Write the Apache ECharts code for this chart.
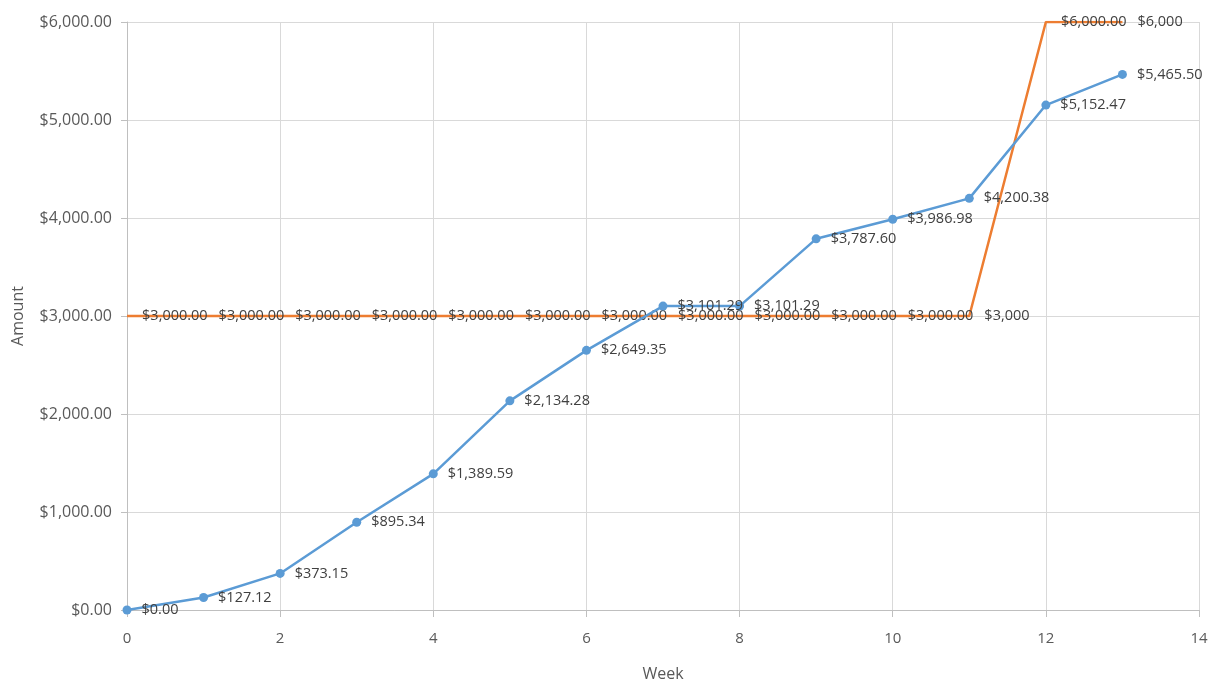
<!DOCTYPE html>
<html><head><meta charset="utf-8">
<script src="https://cdn.jsdelivr.net/npm/echarts@6/dist/echarts.min.js"></script>
<style>html,body{margin:0;padding:0;background:#fff}#c{width:1213px;height:684px}</style>
</head><body><div id="c"></div>
<script>
const weeks = [0,1,2,3,4,5,6,7,8,9,10,11,12,13];
const amountValues = [0, 127.12, 373.15, 895.34, 1389.59, 2134.28, 2649.35, 3101.29, 3101.29, 3787.60, 3986.98, 4200.38, 5152.47, 5465.50];
const targetValues = [3000,3000,3000,3000,3000,3000,3000,3000,3000,3000,3000,3000,6000,6000];
const targetLabels = ['$3,000.00','$3,000.00','$3,000.00','$3,000.00','$3,000.00','$3,000.00','$3,000.00','$3,000.00','$3,000.00','$3,000.00','$3,000.00','$3,000','$6,000.00','$6,000'];
const yTickLabels = ['$0.00','$1,000.00','$2,000.00','$3,000.00','$4,000.00','$5,000.00','$6,000.00'];

function money(v){
  return '$' + v.toLocaleString('en-US',{minimumFractionDigits:2,maximumFractionDigits:2});
}
const FONT = 'Open Sans';
const chart = echarts.init(document.getElementById('c'), null, {renderer:'canvas'});
chart.setOption({
  animation:false,
  grid:{left:127,right:14,top:22,bottom:74,containLabel:false,outerBoundsMode:'none'},
  xAxis:{type:'value',min:0,max:14,interval:2,name:'Week',nameLocation:'middle',nameGap:56,
    nameTextStyle:{color:'#595959',fontSize:16,fontFamily:FONT},
    axisLine:{show:true,lineStyle:{color:'#bfbfbf'}},
    axisTick:{show:true,length:7,lineStyle:{color:'#bfbfbf'}},
    axisLabel:{color:'#595959',fontSize:15,fontFamily:FONT,margin:21},
    splitLine:{show:true,lineStyle:{color:'#d9d9d9'}}},
  yAxis:{type:'value',min:0,max:6000,interval:1000,name:'Amount',nameLocation:'middle',nameGap:101,
    nameTextStyle:{color:'#595959',fontSize:16,fontFamily:FONT},
    axisLine:{show:true,lineStyle:{color:'#bfbfbf'}},
    axisTick:{show:true,length:6,lineStyle:{color:'#bfbfbf'}},
    axisLabel:{color:'#595959',fontSize:16,fontFamily:FONT,margin:15,formatter:(v)=>yTickLabels[Math.round(v/1000)]},
    splitLine:{show:true,lineStyle:{color:'#d9d9d9'}}},
  series:[
    {type:'line',name:'Target',data:weeks.map((w,i)=>[w,targetValues[i]]),
     showSymbol:true,symbol:'circle',symbolSize:0.1,lineStyle:{color:'#ed7d31',width:2.5},itemStyle:{color:'#ed7d31'},
     label:{show:true,position:'right',distance:15,color:'#404040',fontSize:14.5,fontFamily:FONT,
       formatter:(p)=>targetLabels[p.dataIndex]},
     labelLayout:{hideOverlap:false},
     z:2},
    {type:'line',name:'Amount',data:weeks.map((w,i)=>[w,amountValues[i]]),
     symbol:'circle',symbolSize:9,showSymbol:true,
     lineStyle:{color:'#5b9bd5',width:2.5},itemStyle:{color:'#5b9bd5'},
     label:{show:true,position:'right',distance:10,color:'#404040',fontSize:14.5,fontFamily:FONT,
       formatter:(p)=>money(amountValues[p.dataIndex])},
     labelLayout:{hideOverlap:false},
     z:3}
  ]
});
</script></body></html>
